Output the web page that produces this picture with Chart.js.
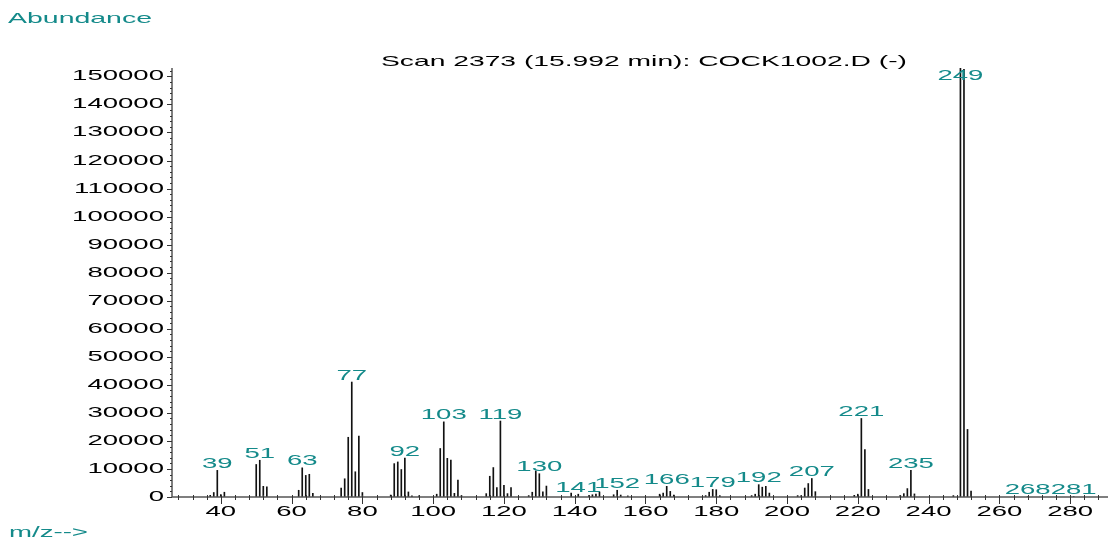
<!DOCTYPE html>
<html>
<head>
<meta charset="utf-8">
<script src="https://cdn.jsdelivr.net/npm/chart.js@4"></script>
<style>
  body { margin: 0; background: #fff; }
  canvas { display: block; }
</style>
</head>
<body>
<canvas id="chart" width="1109" height="540"></canvas>
<script>
// m/z values and their abundances
const mz = [37, 38, 39, 40, 41, 50, 51, 52, 53, 62, 63, 64, 65, 66,
  74, 75, 76, 77, 78, 79, 80, 88, 89, 90, 91, 92, 93, 94, 96,
  101, 102, 103, 104, 105, 106, 107, 108, 115, 116, 117, 118, 119, 120, 121, 122,
  127, 128, 129, 130, 131, 132, 139, 141, 144, 145, 146, 147, 151, 152, 153, 155,
  164, 165, 166, 167, 168, 177, 178, 179, 180, 181, 190, 191, 192, 193, 194, 195,
  203, 204, 205, 206, 207, 208, 219, 220, 221, 222, 223, 232, 233, 234, 235, 236,
  247, 249, 250, 251, 252, 268, 281];
const abundance = [600, 1600, 9500, 850, 1700, 11600, 13100, 3800, 3600, 2400, 10400, 7700, 8100, 1300,
  3200, 6500, 21300, 41000, 9000, 21700, 1600, 700, 11900, 12500, 9800, 13900, 1800, 400, 400,
  1000, 17300, 26800, 13800, 13200, 1300, 6000, 500, 1200, 7400, 10500, 3400, 27100, 4200, 1200, 3400,
  500, 1700, 9300, 8300, 1800, 3900, 1400, 1000, 500, 800, 1000, 1800, 800, 2400, 700, 400,
  1000, 1400, 3800, 2000, 700, 500, 1700, 2700, 2600, 500, 500, 1000, 4400, 3500, 3800, 1400,
  500, 500, 3200, 4800, 6600, 1900, 600, 1000, 28000, 16900, 2700, 600, 1200, 3000, 9500, 1100,
  500, 153000, 152500, 24100, 2100, 150, 150];
const peakLabels = [39, 51, 63, 77, 92, 103, 119, 130, 141, 152, 166, 179, 192, 207, 221, 235, 249, 268, 281];
const xTicks = [40, 60, 80, 100, 120, 140, 160, 180, 200, 220, 240, 260, 280];
const yTicks = [0, 10000, 20000, 30000, 40000, 50000, 60000, 70000, 80000, 90000,
  100000, 110000, 120000, 130000, 140000, 150000];

const title = "Scan 2373 (15.992 min): COCK1002.D (-)";
const teal = "#148a8a";
const FONT = "14.5px 'Liberation Sans', Arial, sans-serif";
const SX = 1.9; // the original text is drawn wide

function wideText(ctx, str, x, y, align, sx) {
  ctx.save();
  ctx.translate(x, y);
  ctx.scale(sx, 1);
  ctx.textAlign = align;
  ctx.fillText(str, 0, 0);
  ctx.restore();
}

const decor = {
  id: "decor",
  afterDraw(chart) {
    const ctx = chart.ctx;
    const xs = chart.scales.x, ys = chart.scales.y;
    const area = chart.chartArea;
    ctx.save();
    ctx.font = FONT;

    // axes
    ctx.strokeStyle = "#555";
    ctx.lineWidth = 1.5;
    ctx.beginPath();
    ctx.moveTo(area.left, area.top);
    ctx.lineTo(area.left, area.bottom);
    ctx.lineTo(area.right, area.bottom);
    ctx.stroke();

    // y ticks: minor every 2000, major every 10000
    ctx.lineWidth = 1;
    ctx.strokeStyle = "#333";
    for (let v = 0; v <= 152000; v += 2000) {
      const y = Math.round(ys.getPixelForValue(v)) + 0.5;
      const len = v % 10000 === 0 ? 5 : 2;
      ctx.beginPath();
      ctx.moveTo(area.left - len, y);
      ctx.lineTo(area.left, y);
      ctx.stroke();
    }
    // x ticks: minor every 4, major every 20
    for (let v = 28; v <= 290; v += 4) {
      const x = Math.round(xs.getPixelForValue(v)) + 0.5;
      const major = v % 20 === 0;
      ctx.beginPath();
      ctx.moveTo(x, area.bottom - 2);
      ctx.lineTo(x, area.bottom + (major ? 7 : 3));
      ctx.stroke();
    }

    // tick labels
    ctx.fillStyle = "#000";
    ctx.textBaseline = "middle";
    yTicks.forEach(v => wideText(ctx, String(v), 164, ys.getPixelForValue(v), "right", SX));
    ctx.textBaseline = "alphabetic";
    xTicks.forEach(v => wideText(ctx, String(v), xs.getPixelForValue(v), 516, "center", SX));

    // title
    const tw = ctx.measureText(title).width;
    wideText(ctx, title, 381, 66, "left", 526 / tw);

    // peak labels
    ctx.fillStyle = teal;
    peakLabels.forEach(m => {
      const i = mz.indexOf(m);
      const top = ys.getPixelForValue(abundance[i]);
      const base = Math.max(top - 2.5, 79.5);
      wideText(ctx, String(m), xs.getPixelForValue(m), base, "center", SX);
    });

    wideText(ctx, "Abundance", 8, 23, "left", 144 / ctx.measureText("Abundance").width);
    wideText(ctx, "m/z-->", 9, 537, "left", 79 / ctx.measureText("m/z-->").width);
    ctx.restore();
  }
};

new Chart(document.getElementById("chart"), {
  type: "bar",
  data: {
    datasets: [{
      data: mz.map((m, i) => ({ x: m, y: abundance[i] })),
      backgroundColor: "#111",
      borderWidth: 0,
      barThickness: 1
    }]
  },
  options: {
    responsive: false,
    animation: false,
    layout: { padding: { left: 172, right: 1, top: 68, bottom: 43 } },
    plugins: { legend: { display: false }, tooltip: { enabled: false } },
    scales: {
      x: { type: "linear", min: 26.2, max: 290.7, offset: false, display: false },
      y: { min: 0, max: 153000, display: false }
    }
  },
  plugins: [decor]
});
</script>
</body>
</html>
